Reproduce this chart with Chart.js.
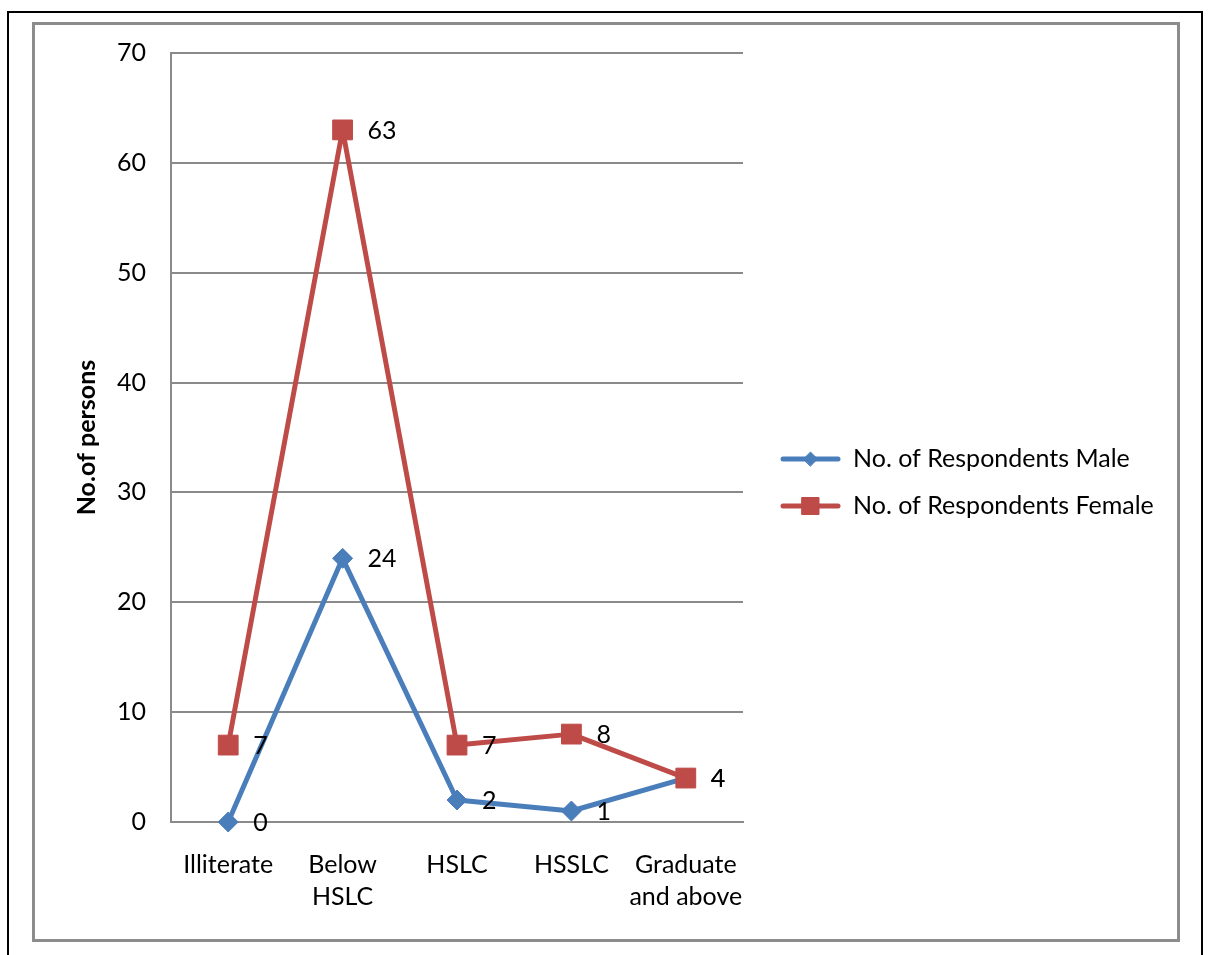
<!DOCTYPE html>
<html>
<head>
<meta charset="utf-8">
<title>Educational qualification of respondents</title>
<script src="https://cdn.jsdelivr.net/npm/chart.js@4/dist/chart.umd.min.js"></script>
<style>
  html, body { margin: 0; padding: 0; background: #fff; }
  #wrap { position: relative; width: 1208px; height: 955px; overflow: hidden; }
  #outer { position: absolute; left: 7px; top: 11px; width: 1196px; height: 980px;
           border: 2px solid #000; border-bottom: none; box-sizing: border-box; }
  #frame { position: absolute; left: 32px; top: 22px; width: 1148px; height: 920px;
           border: 3px solid #8c8c8c; box-sizing: border-box; }
  #chart { position: absolute; left: 0; top: 0; }
</style>
</head>
<body>
<div id="wrap">
  <div id="outer"></div>
  <div id="frame"></div>
  <canvas id="chart" width="1208" height="955"></canvas>
</div>
<script>
// Education level categories (multi-line labels as arrays)
const categories = ['Illiterate', ['Below', 'HSLC'], 'HSLC', 'HSSLC', ['Graduate', 'and above']];
// Respondent counts per category
const maleValues = [0, 24, 2, 1, 4];
const femaleValues = [7, 63, 7, 8, 4];
const seriesNames = ['No. of Respondents Male', 'No. of Respondents Female'];
// Value axis range
const yMin = 0, yMax = 70, yStep = 10;

const FONT = 'Lato, "Open Sans", sans-serif';
const FONT_SIZE = 25;
const BLUE = '#4A7EBB';
const RED = '#BE4B48';
const GRID = '#8a8a8a';

// Value labels to the right of each point
const valueLabels = {
  id: 'valueLabels',
  afterDatasetsDraw(chart) {
    const ctx = chart.ctx;
    ctx.save();
    ctx.font = FONT_SIZE + 'px ' + FONT;
    ctx.fillStyle = '#000';
    ctx.textAlign = 'left';
    ctx.textBaseline = 'middle';
    chart.data.datasets.forEach((ds, i) => {
      const meta = chart.getDatasetMeta(i);
      meta.data.forEach((pt, j) => {
        ctx.fillText(String(ds.data[j]), pt.x + 25, pt.y + 1);
      });
    });
    ctx.restore();
  }
};

// Legend with line + marker samples, placed right of the plot
const lineLegend = {
  id: 'lineLegend',
  afterDraw(chart) {
    const ctx = chart.ctx;
    const x0 = 783, x1 = 838, textX = 853, y0 = 459, gap = 47;
    const markerRadius = [7, 12];
    ctx.save();
    chart.data.datasets.forEach((ds, i) => {
      const y = y0 + i * gap;
      ctx.strokeStyle = ds.borderColor;
      ctx.lineWidth = 5;
      ctx.lineCap = 'round';
      ctx.beginPath();
      ctx.moveTo(x0, y);
      ctx.lineTo(x1, y);
      ctx.stroke();
      ctx.fillStyle = ds.pointBackgroundColor;
      ctx.strokeStyle = ds.pointBorderColor;
      ctx.lineWidth = 1;
      Chart.helpers.drawPoint(ctx, { pointStyle: ds.pointStyle, radius: markerRadius[i], borderWidth: 1, rotation: 0 }, (x0 + x1) / 2, y);
      ctx.fillStyle = '#000';
      ctx.font = FONT_SIZE + 'px ' + FONT;
      ctx.textAlign = 'left';
      ctx.textBaseline = 'middle';
      ctx.fillText(ds.label, textX, y);
    });
    ctx.restore();
  }
};

new Chart(document.getElementById('chart'), {
  type: 'line',
  data: {
    labels: categories,
    datasets: [
      {
        label: seriesNames[0],
        data: maleValues,
        order: 2,
        clip: false,
        borderColor: BLUE,
        backgroundColor: BLUE,
        borderWidth: 5,
        borderJoinStyle: 'round',
        borderCapStyle: 'round',
        tension: 0,
        pointStyle: 'rectRot',
        pointRadius: 10,
        pointHoverRadius: 10,
        pointBackgroundColor: BLUE,
        pointBorderColor: BLUE,
        pointBorderWidth: 1
      },
      {
        label: seriesNames[1],
        data: femaleValues,
        order: 1,
        clip: false,
        borderColor: RED,
        backgroundColor: RED,
        borderWidth: 5,
        borderJoinStyle: 'round',
        borderCapStyle: 'round',
        tension: 0,
        pointStyle: 'rect',
        pointRadius: 14,
        pointHoverRadius: 14,
        pointBackgroundColor: RED,
        pointBorderColor: RED,
        pointBorderWidth: 1
      }
    ]
  },
  options: {
    responsive: false,
    animation: false,
    events: [],
    layout: { padding: { left: 72, top: 53, right: 465, bottom: 0 } },
    plugins: {
      legend: { display: false },
      tooltip: { enabled: false },
      title: { display: false }
    },
    scales: {
      x: {
        offset: true,
        grid: { display: false, drawTicks: false },
        border: { display: true, color: GRID, width: 2 },
        ticks: {
          color: '#000',
          font: { family: FONT, size: FONT_SIZE, lineHeight: 32 / FONT_SIZE },
          padding: 27,
          maxRotation: 0,
          autoSkip: false
        },
        afterFit(scale) { scale.height = 133; }
      },
      y: {
        min: yMin,
        max: yMax,
        grid: { color: GRID, lineWidth: 2, drawTicks: false },
        border: { display: true, color: GRID, width: 2 },
        ticks: {
          stepSize: yStep,
          color: '#000',
          font: { family: FONT, size: FONT_SIZE },
          padding: 25
        },
        title: {
          display: true,
          text: 'No.of persons',
          color: '#000',
          font: { family: FONT, size: FONT_SIZE, weight: 'bold', lineHeight: 1.2 },
          padding: { top: 0, bottom: 0 }
        },
        afterFit(scale) { scale.width = 99; }
      }
    }
  },
  plugins: [valueLabels, lineLegend]
});
</script>
</body>
</html>
